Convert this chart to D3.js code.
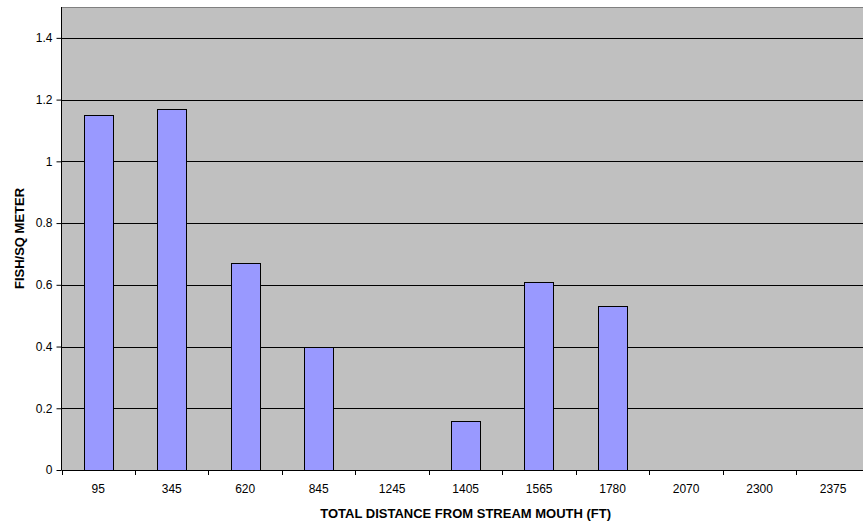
<!DOCTYPE html>
<html>
<head>
<meta charset="utf-8">
<script src="https://cdn.jsdelivr.net/npm/d3@7/dist/d3.min.js"></script>
<style>
  html, body { margin: 0; padding: 0; background: #fff; }
  svg { display: block; font-family: "Liberation Sans", Arial, sans-serif; }
</style>
</head>
<body>
<svg id="chart" width="863" height="525"></svg>
<script>
// Sampling stations (distance upstream, ft) and fish density at each
const distances = ["95", "345", "620", "845", "1245", "1405", "1565", "1780", "2070", "2300", "2375"];
const density = [1.15, 1.17, 0.67, 0.40, 0, 0.16, 0.61, 0.53, 0, 0, 0];
const yTicks = [0, 0.2, 0.4, 0.6, 0.8, 1, 1.2, 1.4];
const yMax = 1.5;

const svg = d3.select("#chart");
const plot = { left: 61.5, right: 869.8, top: 7, bottom: 470 };

const x = d3.scaleBand()
  .domain(distances)
  .range([plot.left, plot.right])
  .paddingInner(0.6)
  .paddingOuter(0.3);

const y = d3.scaleLinear().domain([0, yMax]).range([plot.bottom, plot.top]);

// Plot area background
svg.append("rect")
  .attr("x", plot.left).attr("y", plot.top)
  .attr("width", plot.right - plot.left).attr("height", plot.bottom - plot.top)
  .attr("fill", "#C0C0C0");

// Top border of the plot area
svg.append("line")
  .attr("x1", plot.left).attr("x2", plot.right)
  .attr("y1", Math.round(y(yMax)) + 0.5).attr("y2", Math.round(y(yMax)) + 0.5)
  .attr("stroke", "#808080").attr("stroke-width", 1);

// Horizontal gridlines
svg.append("g").selectAll("line")
  .data(yTicks.filter(d => d > 0))
  .join("line")
  .attr("x1", plot.left).attr("x2", plot.right)
  .attr("y1", d => Math.round(y(d)) + 0.5).attr("y2", d => Math.round(y(d)) + 0.5)
  .attr("stroke", "#000").attr("stroke-width", 1);

// Bars
svg.append("g").selectAll("rect")
  .data(distances.map((d, i) => ({ key: d, v: density[i] })).filter(d => d.v > 0))
  .join("rect")
  .attr("x", d => Math.round(x(d.key)) + 0.5)
  .attr("y", d => Math.round(y(d.v)) + 0.5)
  .attr("width", Math.round(x.bandwidth()))
  .attr("height", d => Math.round(y(0)) - Math.round(y(d.v)))
  .attr("fill", "#9999FF")
  .attr("stroke", "#000")
  .attr("stroke-width", 1);

// Y axis
const yAxis = svg.append("g")
  .attr("transform", `translate(${plot.left},0)`)
  .call(d3.axisLeft(y).tickValues(yTicks).tickFormat(d3.format("~g")).tickSize(5).tickPadding(4));
yAxis.select(".domain").attr("stroke", "#000").attr("d", `M0,${plot.top}V${plot.bottom}`);
yAxis.selectAll(".tick line").attr("stroke", "#000");
yAxis.selectAll("text").attr("font-size", 12).attr("fill", "#000").attr("font-family", "Liberation Sans, Arial, sans-serif");

// X axis with tick marks between categories
const xAxis = svg.append("g")
  .attr("transform", `translate(0,${plot.bottom})`)
  .call(d3.axisBottom(x).tickSize(0).tickPadding(14));
xAxis.select(".domain").attr("stroke", "#000").attr("d", `M${plot.left},0.5H${plot.right}`);
xAxis.selectAll("text").attr("font-size", 12).attr("fill", "#000").attr("font-family", "Liberation Sans, Arial, sans-serif");

xAxis.append("g").selectAll("line")
  .data(d3.range(distances.length + 1))
  .join("line")
  .attr("x1", i => Math.round(plot.left + i * (plot.right - plot.left) / distances.length) + 0.5)
  .attr("x2", i => Math.round(plot.left + i * (plot.right - plot.left) / distances.length) + 0.5)
  .attr("y1", 0).attr("y2", 5)
  .attr("stroke", "#000");

// Axis titles
svg.append("text")
  .attr("x", (plot.left + plot.right) / 2)
  .attr("y", 518)
  .attr("text-anchor", "middle")
  .attr("font-size", 13).attr("font-weight", "bold")
  .text("TOTAL DISTANCE FROM STREAM MOUTH (FT)");

svg.append("text")
  .attr("transform", `translate(24,${(plot.top + plot.bottom) / 2}) rotate(-90)`)
  .attr("text-anchor", "middle")
  .attr("font-size", 13).attr("font-weight", "bold")
  .text("FISH/SQ METER");
</script>
</body>
</html>
